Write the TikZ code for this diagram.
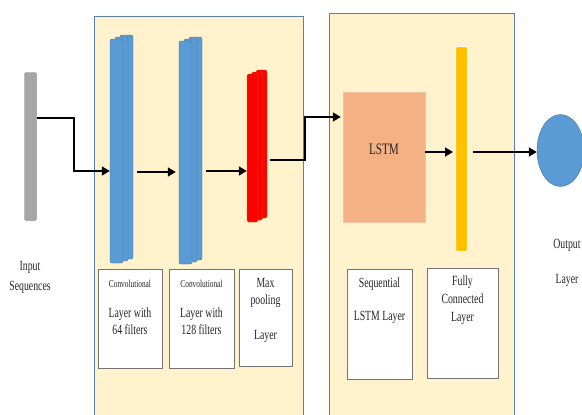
\documentclass[tikz,border=0pt]{standalone}
\usepackage{fontspec}
\setmainfont[FakeStretch=0.7]{Liberation Serif}
\usetikzlibrary{arrows.meta,shapes.geometric}

\definecolor{panelfill}{HTML}{FFF2CC}
\definecolor{panelline}{HTML}{5B80AC}
\definecolor{convblue}{HTML}{5B9BD5}
\definecolor{convedge}{HTML}{41719C}
\definecolor{pooledge}{HTML}{C55A11}
\definecolor{lstmfill}{HTML}{F4B183}
\definecolor{fcfill}{HTML}{FFC000}

\newcommand{\lblsize}{\fontsize{14}{17}\selectfont}
\newcommand{\tinysize}{\fontsize{10.5}{12}\selectfont}

\begin{document}
\begin{tikzpicture}[x=1pt,y=-1pt,
  panel/.style={draw=panelline, line width=1.1pt, fill=panelfill, anchor=north west},
  convlayer/.style={draw=convedge, fill=convblue, rounded corners=2pt, minimum width=13pt, inner sep=0pt},
  poollayer/.style={draw=pooledge, fill=red, rounded corners=1.5pt, minimum width=11pt, inner sep=0pt},
  lblbox/.style={draw=black!55, fill=white, anchor=north west, inner sep=0pt},
  lbltext/.style={anchor=north, align=center, inner sep=0pt, font=\lblsize, text=black!85},
  flow/.style={line width=1.7pt, -{Triangle[length=8pt,width=9pt]}}]
\useasboundingbox (0,0) rectangle (582,415);
\clip (0,0) rectangle (582,415);

% panels
\node[panel, minimum width=209pt, minimum height=410pt] (cnnpanel) at (94,16) {};
\node[panel, minimum width=185pt, minimum height=410pt] (lstmpanel) at (329,13) {};

% input
\node[draw=black!50, fill=black!35, rounded corners=2pt, minimum width=12pt, minimum height=148pt, inner sep=0pt] (inp) at (30.5,146.5) {};
\node[lbltext, font=\fontsize{14}{20}\selectfont] (inptxt) at (30,261) {Input\\Sequences};

% convolution layers
\node[convlayer, minimum height=224pt] (conv1c) at (126.5,147) {};
\node[convlayer, minimum height=224pt] (conv1b) at (121.5,149) {};
\node[convlayer, minimum height=224pt] (conv1) at (116.5,151) {};
\node[convlayer, minimum height=223pt] (conv2c) at (195.5,148.5) {};
\node[convlayer, minimum height=223pt] (conv2b) at (190.5,150.5) {};
\node[convlayer, minimum height=223pt] (conv2) at (185.5,152.5) {};

% max pooling
\node[poollayer, minimum height=148pt] (poolc) at (261.5,144) {};
\node[poollayer, minimum height=148pt] (poolb) at (257,146) {};
\node[poollayer, minimum height=148pt] (pool) at (252.5,148) {};

% lstm and dense
\node[fill=lstmfill, draw=lstmfill!80!white, minimum width=82pt, minimum height=130pt, inner sep=0pt] (lstm) at (384,157) {};
\node[font=\fontsize{16}{18}\selectfont, text=black!85] (lstmtxt) at (384,149) {LSTM};
\node[draw=white, line width=1pt, fill=fcfill, rounded corners=2pt, minimum width=12pt, minimum height=205pt, inner sep=0pt] (fc) at (461.5,149) {};

% output
\node[ellipse, draw=convedge, fill=convblue, minimum width=47pt, minimum height=72pt, inner sep=0pt] (out) at (560.5,150.5) {};
\node[lbltext] (outtxt1) at (567,239) {Output};
\node[lbltext] (outtxt2) at (567,274) {Layer};

% label boxes
\node[lblbox, minimum width=64pt, minimum height=99pt] (conv1box) at (98,269) {};
\node[lbltext, font=\tinysize] (conv1t1) at (130,280) {Convolutional};
\node[lbltext] (conv1t2) at (130,308) {Layer with\\64 filters};
\node[lblbox, minimum width=65pt, minimum height=99pt] (conv2box) at (169,269) {};
\node[lbltext, font=\tinysize] (conv2t1) at (201.5,280) {Convolutional};
\node[lbltext] (conv2t2) at (201.5,308) {Layer with\\128 filters};
\node[lblbox, minimum width=53pt, minimum height=97pt] (poolbox) at (239,269) {};
\node[lbltext] (poolt1) at (265.5,278) {Max\\pooling};
\node[lbltext] (poolt2) at (265.5,330) {Layer};
\node[lblbox, minimum width=65pt, minimum height=110pt] (seqbox) at (347,269) {};
\node[lbltext] (seqt1) at (379.5,278) {Sequential};
\node[lbltext] (seqt2) at (379.5,311) {LSTM Layer};
\node[lblbox, minimum width=71pt, minimum height=110pt] (fcbox) at (427,268) {};
\node[lbltext, font=\fontsize{14}{18}\selectfont] (fct) at (462.5,276) {Fully\\Connected\\Layer};

% connectors
\draw[flow] (inp.east |- 0,118) -| (74,171) -- (conv1.west |- 0,171);
\draw[flow] ([xshift=4pt]conv1c.east |- 0,172) -- ([xshift=-3pt]conv2.west |- 0,172);
\draw[flow] ([xshift=4pt]conv2c.east |- 0,171) -- (pool.west |- 0,171);
\draw[flow] ([xshift=3pt]poolc.east |- 0,160) -| (305,117) -- ([xshift=-2pt]lstm.west |- 0,117);
\draw[flow] (lstm.east |- 0,152) -- ([xshift=-2pt]fc.west |- 0,152);
\draw[flow] ([xshift=5pt]fc.east |- 0,152) -- (out.west |- 0,152);
\end{tikzpicture}
\end{document}
